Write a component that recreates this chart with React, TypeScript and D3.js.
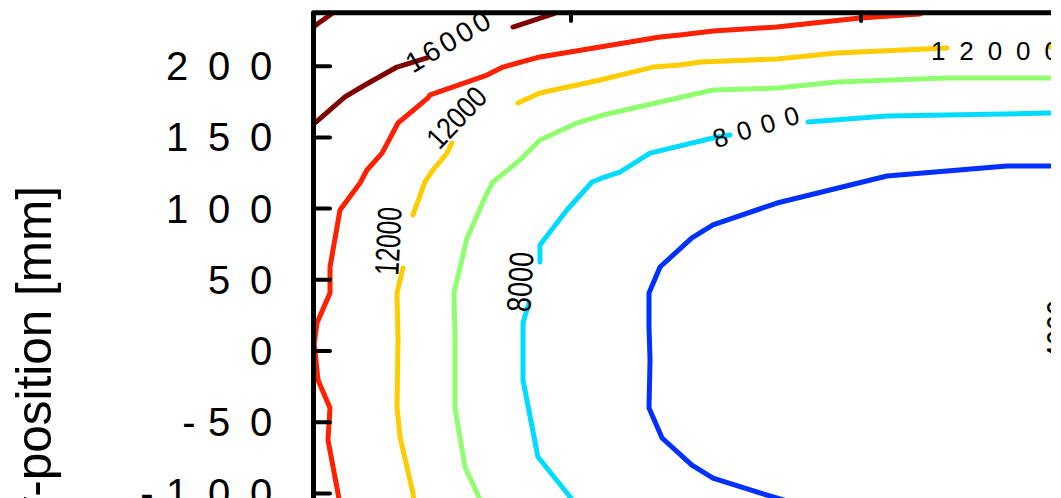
import React from 'react';
import * as d3 from 'd3';

type Pt = [number, number];

// top axis ticks (no labels visible in this crop) and left axis ticks, both in mm
const xTicks = [0, 200];
const yTicks = [200, 150, 100, 50, 0, -50, -100];

// contour levels and their jet colours
const levels = [18000, 16000, 14000, 12000, 10000, 8000, 6000];
const levelColors = ['#800000', '#800000', '#ff2000', '#ffcc00', '#8fff70', '#00dcff', '#0030ff'];

// each contour is a list of visible pieces, the gaps are where the labels sit
const c18000: Pt[][] = [
  [[-183, 223], [-175.9, 228.9], [-166.2, 236], [-160, 241]],
];
const c16000: Pt[][] = [
  [[-185, 154], [-175.9, 160.8], [-155.9, 178.4], [-142.1, 186.8], [-120, 199.4], [-111, 202.2], [-99.3, 205.8]],
  [[-40, 227.5], [-12.4, 236.7], [-1, 242]],
];
const c14000: Pt[][] = [
  [[250, 242], [240.7, 236.7], [199.3, 233.8], [142.1, 227.5], [97.9, 224.7], [75.2, 221.9], [61.4, 220.5],
   [20, 213.5], [-21.4, 206.5], [-46.9, 199.4], [-57.9, 193.8], [-97.2, 179.8], [-98.6, 177.7],
   [-119.3, 160.1], [-130.3, 139], [-140.7, 127.1], [-145.5, 118], [-159.3, 99], [-166.2, 59],
   [-166.2, 40.7], [-175.2, 19.7], [-177.2, 4.2], [-176.6, 0.7], [-174.5, -20.4], [-166.2, -40],
   [-167.6, -62.5], [-160.7, -99.7], [-157.9, -118.7]],
];
const c12000: Pt[][] = [
  [[364.8, 214.9], [329.7, 213.5]],
  [[259.3, 212.8], [183.4, 209.3], [142.1, 205.1], [89, 203], [75.2, 200.8], [56.6, 199.4], [20, 190.3],
   [-21.4, 181.2], [-36.6, 174.2]],
  [[-82.1, 146.1], [-85.5, 139], [-95.2, 127.1], [-100.7, 118.7], [-109, 95.5]],
  [[-115.9, 58.3], [-120, 40.7], [-119.3, 7.7], [-120, -39.3], [-117.9, -60.4], [-109, -99.7], [-107, -118.7]],
];
const c10000: Pt[][] = [
  [[364.8, 191.7], [330.3, 191.7], [259.3, 191.7], [183.4, 188.9], [142.1, 184.7], [97.9, 183.3], [89, 181.2],
   [61.4, 174.9], [22.1, 165.7], [4.1, 160.1], [-21.4, 148.2], [-35.2, 134.1], [-53.8, 118.7],
   [-57.9, 111], [-71.7, 79.4], [-80.7, 40.7], [-80, 7.7], [-80, -40], [-73.1, -81.5], [-64.8, -99.7],
   [-60, -111.7]],
];
const c8000: Pt[][] = [
  [[364.8, 167.1], [330.3, 167.1], [217.9, 165], [163.4, 160.8]],
  [[109.7, 151.7], [100.7, 150.3], [54.5, 139], [33.8, 125.7], [21.4, 121.5], [14.5, 118.7], [-2.8, 99],
   [-21.4, 74.4], [-21.4, 62.5]],
  [[-29, 33.7], [-33.1, 19.7], [-33.1, -20.4], [-22.8, -74.4], [-2.8, -99.7], [6.2, -111.7]],
];
const c6000: Pt[][] = [
  [[364.8, 130.6], [331, 129.9], [300.7, 129.9], [217.9, 122.9], [142.1, 103.9], [97.9, 88.5], [83.4, 79.4],
   [61.4, 59], [53.8, 40.7], [53.8, 16.9], [54.5, -6.3], [53.8, -40], [62.8, -61.1], [83.4, -80.1],
   [97.9, -89.2], [130.3, -99.7], [157.9, -108]],
];
const contours = [c18000, c16000, c14000, c12000, c10000, c8000, c6000];

// contour labels: text, centre (mm), rotation, size, length on screen
const labelTexts = ['16000', '12000', '12000', '8000', '8000', '12000', '4000'];
const labelPos: Pt[] = [[-84.8, 217.1], [-79, 164], [-126.2, 77.2], [-35.2, 48.5], [127.6, 157.3], [292.4, 210.7], [335.9, 14.7]];
const labelAngle = [-30.6, -46.4, -87, -87, -16.6, 0, -90];
const labelSize = [28, 30, 34, 34, 26, 26, 34];
const labelLen = [93, 72, 68, 60, 89, 128, 60];
const labelSqueeze = [false, true, true, true, false, false, true];

const xScale = d3.scaleLinear().domain([0, 200]).range([571, 861]);
const yScale = d3.scaleLinear().domain([0, 200]).range([351, 66.2]);

const left = 313.5;
const top = 12.75;
const right = 1051;
const font = 'Liberation Sans, Arial, sans-serif';

const line = d3.line<Pt>().x(d => xScale(d[0])).y(d => yScale(d[1]));

// tick labels are drawn with a wide fixed pitch, one glyph at a time
const tickChars = (s: string) => {
  const out: { ch: string; x: number }[] = [];
  let x = 261 + 42;
  for (let i = s.length - 1; i >= 0; i--) {
    x -= s[i] === '-' ? 30 : 42;
    out.push({ ch: s[i], x });
  }
  return out;
};

export default function App() {
  return (
    <svg width={1061} height={498} style={{ position: 'absolute', left: 0, top: 0, background: '#fff' }}>
      <defs>
        <clipPath id="plot">
          <rect x={left} y={top} width={right - left} height={498 - top + 10} />
        </clipPath>
      </defs>

      <g clipPath="url(#plot)">
        {contours.map((pieces, i) =>
          pieces.map((p, j) => (
            <path key={`${levels[i]}-${j}`} d={line(p) ?? ''} fill="none" stroke={levelColors[i]}
              strokeWidth={5} strokeLinejoin="round" strokeLinecap="round" />
          ))
        )}
        {labelTexts.map((t, i) => (
          <text key={i}
            transform={`translate(${xScale(labelPos[i][0])},${yScale(labelPos[i][1])}) rotate(${labelAngle[i]})`}
            textAnchor="middle" dominantBaseline="central" fontFamily={font} fontSize={labelSize[i]}
            textLength={labelLen[i]} lengthAdjust={labelSqueeze[i] ? 'spacingAndGlyphs' : 'spacing'} fill="#000">
            {t}
          </text>
        ))}
      </g>

      {/* axes */}
      <path d={`M${left},505 L${left},${top} L${right},${top}`} fill="none" stroke="#000" strokeWidth={5} strokeLinejoin="round" />
      {yTicks.map(v => (
        <line key={v} x1={left} x2={330} y1={yScale(v)} y2={yScale(v)} stroke="#000" strokeWidth={4} strokeLinecap="round" />
      ))}
      {xTicks.map(v => (
        <line key={v} x1={xScale(v)} x2={xScale(v)} y1={top} y2={21} stroke="#000" strokeWidth={4} strokeLinecap="round" />
      ))}

      {yTicks.map(v => (
        <g key={v}>
          {tickChars(String(v)).map((c, k) => (
            <text key={k} x={c.x} y={yScale(v) + 14} textAnchor="middle" fontFamily={font} fontSize={40} fill="#000">
              {c.ch}
            </text>
          ))}
        </g>
      ))}

      <text transform="translate(51,186) rotate(-90)" textAnchor="end" fontFamily={font} fontSize={49.5} fill="#000">
        y-position [mm]
      </text>
    </svg>
  );
}
